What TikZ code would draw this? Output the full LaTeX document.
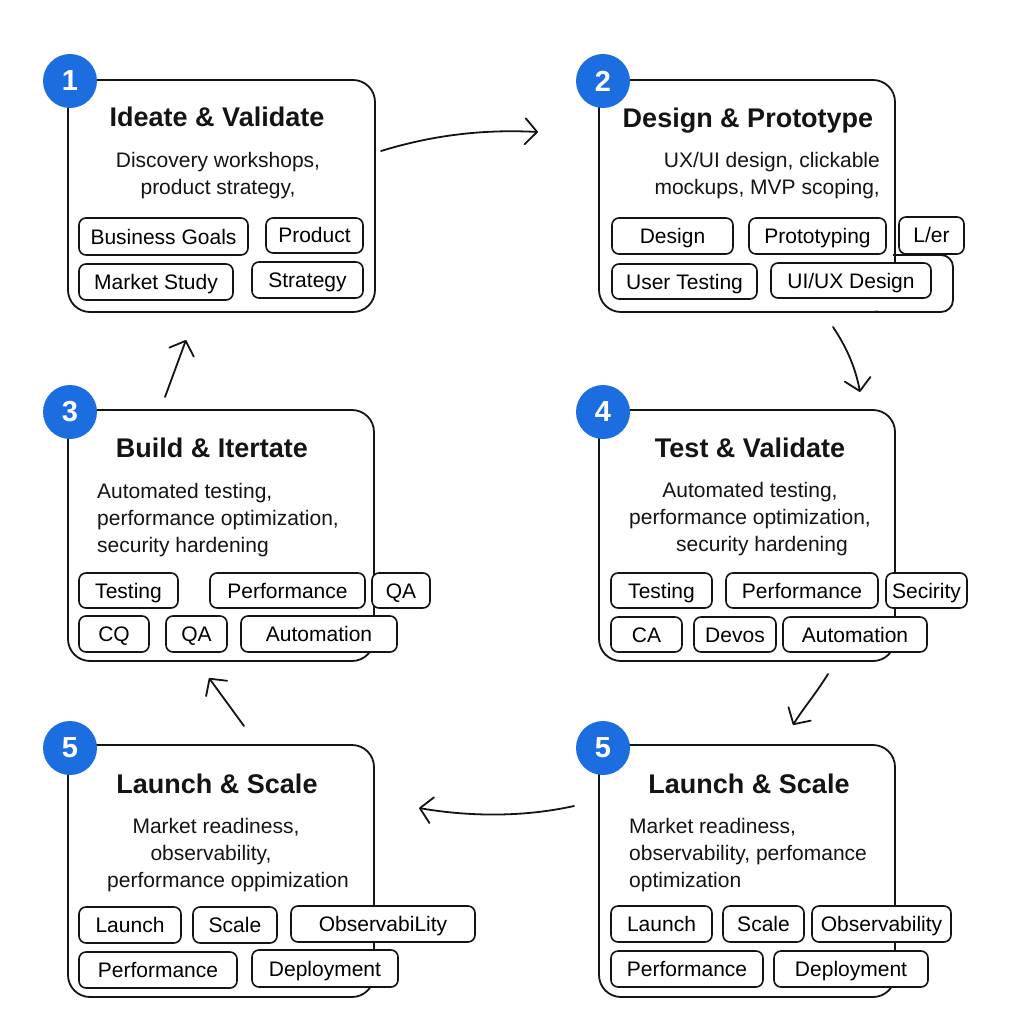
\documentclass[tikz,border=0pt]{standalone}
\usepackage{fontspec}
\setmainfont{Liberation Sans}
\usetikzlibrary{arrows.meta}
\definecolor{badgeblue}{HTML}{1C6EE0}
\definecolor{ink}{HTML}{141414}
\newcommand\chipat[6]{\node[chip,minimum width={#4-#2},minimum height={#5-#3}] (#1) at ({(#2+#4)/2},{(#3+#5)/2}) {#6};}
\newcommand\panelat[5]{\node[panel,minimum width={#4-#2},minimum height={#5-#3}] (#1) at ({(#2+#4)/2},{(#3+#5)/2}) {};}
\begin{document}
\begin{tikzpicture}[x=1pt,y=-1pt,
 panel/.style={draw=ink, line width=1.8pt, rounded corners=22pt, fill=white, inner sep=0pt},
 chip/.style={draw=ink, line width=1.6pt, rounded corners=7pt, fill=white, inner sep=0pt, text height=18pt, text depth=3pt, font=\fontsize{21}{25}\selectfont},
 ttl/.style={font=\fontsize{27}{30}\selectfont\bfseries, inner sep=0pt, text=ink},
 body/.style={font=\fontsize{21}{27}\selectfont, inner sep=0pt, text=ink},
 badge/.style={circle, fill=badgeblue, minimum size=54pt, inner sep=0pt, text=white, font=\fontsize{29}{30}\selectfont\bfseries},
 flow/.style={draw=ink, line width=1.8pt, line cap=round, -{Straight Barb[length=12pt,width=26pt,line cap=round,round]}}
]
\fill[white] (0,0) rectangle (1024,1024);
\useasboundingbox (0,0) rectangle (1024,1024);

% ---------- panels
\panelat{p1}{68}{80}{375}{312}
\panelat{p2}{599}{80}{895}{312}
\panelat{p3}{68}{410}{374}{661}
\panelat{p4}{599}{410}{895}{661}
\panelat{p5}{68}{745}{374}{997}
\panelat{p6}{599}{745}{895}{997}

% extension behind panel 2 chips
\fill[white, rounded corners=14pt] (870,262) -- (953,262) -- (953,312) -- (870,312) -- cycle;
\draw[draw=ink, line width=1.8pt, rounded corners=12pt] (893,255) -- (953,255) -- (953,312) -- (870,312);

% ---------- titles and bodies (multi-line bodies: base = last line's baseline)
\node[ttl, anchor=base] (t1) at (217,127) {Ideate \& Validate};
\node[body, anchor=base, align=center] (b1) at (218,195) {Discovery workshops,\\product strategy,};

\node[ttl, anchor=base] (t2) at (748,128) {Design \& Prototype};
\node[body, anchor=base east, align=right] (b2) at (880,195) {UX/UI design, clickable\\mockups, MVP scoping,};

\node[ttl, anchor=base] (t3) at (212,457) {Build \& Itertate};
\node[body, anchor=base west, align=left] (b3) at (97,552) {Automated testing,\\performance optimization,\\security hardening};

\node[ttl, anchor=base] (t4) at (750,457) {Test \& Validate};
\node[body, anchor=base, align=center] (b4) at (750,551) {Automated testing,\\performance optimization,\\\hspace*{24pt}security hardening};

\node[ttl, anchor=base] (t5) at (217,793) {Launch \& Scale};
\node[body, anchor=base, align=center] (b5) at (228,887) {\hspace*{-24pt}Market readiness,\\\hspace*{-34pt}observability,\\performance oppimization};

\node[ttl, anchor=base] (t6) at (749,793) {Launch \& Scale};
\node[body, anchor=base west, align=left] (b6) at (629,887) {Market readiness,\\observability, perfomance\\optimization};

% ---------- chips
\chipat{c1a}{79}{218}{248}{255}{Business Goals}
\chipat{c1b}{266}{218}{363}{253}{Product}
\chipat{c1c}{79}{264}{233}{300}{Market Study}
\chipat{c1d}{252}{262}{363}{298}{Strategy}

\chipat{c2a}{612}{218}{733}{254}{Design}
\chipat{c2b}{749}{218}{886}{254}{Prototyping}
\chipat{c2c}{899}{217}{964}{254}{L/er}
\chipat{c2d}{612}{264}{757}{299}{User Testing}
\chipat{c2e}{771}{263}{931}{298}{UI/UX Design}

\chipat{c3a}{79}{573}{178}{608}{Testing}
\chipat{c3b}{210}{573}{365}{608}{Performance}
\chipat{c3c}{372}{573}{430}{608}{QA}
\chipat{c3d}{79}{616}{149}{652}{CQ}
\chipat{c3e}{166}{616}{227}{652}{QA}
\chipat{c3f}{241}{616}{397}{652}{Automation}

\chipat{c4a}{611}{573}{712}{608}{Testing}
\chipat{c4b}{726}{573}{878}{608}{Performance}
\chipat{c4c}{886}{573}{967}{608}{Secirity}
\chipat{c4d}{611}{617}{682}{652}{CA}
\chipat{c4e}{694}{617}{776}{652}{Devos}
\chipat{c4f}{783}{617}{927}{652}{Automation}

\chipat{c5a}{79}{907}{181}{943}{Launch}
\chipat{c5b}{193}{907}{277}{943}{Scale}
\chipat{c5c}{291}{906}{475}{942}{ObservabiLity}
\chipat{c5d}{79}{952}{237}{988}{Performance}
\chipat{c5e}{252}{950}{398}{987}{Deployment}

\chipat{c6a}{611}{906}{712}{942}{Launch}
\chipat{c6b}{723}{906}{804}{942}{Scale}
\chipat{c6c}{812}{906}{951}{942}{Observability}
\chipat{c6d}{611}{951}{763}{987}{Performance}
\chipat{c6e}{774}{951}{928}{987}{Deployment}

% ---------- badges
\node[badge] (n1) at (70,81) {1};
\node[badge] (n2) at (603,81) {2};
\node[badge] (n3) at (70,412) {3};
\node[badge] (n4) at (603,412) {4};
\node[badge] (n5) at (70,748) {5};
\node[badge] (n6) at (603,748) {5};

% ---------- connectors
\coordinate (a1s) at (381,151); \coordinate (a1e) at (538,132);
\coordinate (a2s) at (833,327); \coordinate (a2e) at (860,392);
\coordinate (a3s) at (828,674); \coordinate (a3e) at (793,725);
\coordinate (a4s) at (574,806); \coordinate (a4e) at (419,808);
\coordinate (a5s) at (244,726); \coordinate (a5e) at (209,678);
\coordinate (a6s) at (165,397); \coordinate (a6e) at (186,340);

\draw[flow] (a1s) .. controls (430,136) and (480,129) .. (a1e);
\draw[flow] (a2s) .. controls (845,345) and (855,365) .. (a2e);
\draw[flow] (a3s) .. controls (815,695) and (802,710) .. (a3e);
\draw[flow] (a4s) .. controls (520,818) and (465,816) .. (a4e);
\draw[flow] (a5s) -- (a5e);
\draw[flow] (a6s) -- (a6e);
\end{tikzpicture}
\end{document}
